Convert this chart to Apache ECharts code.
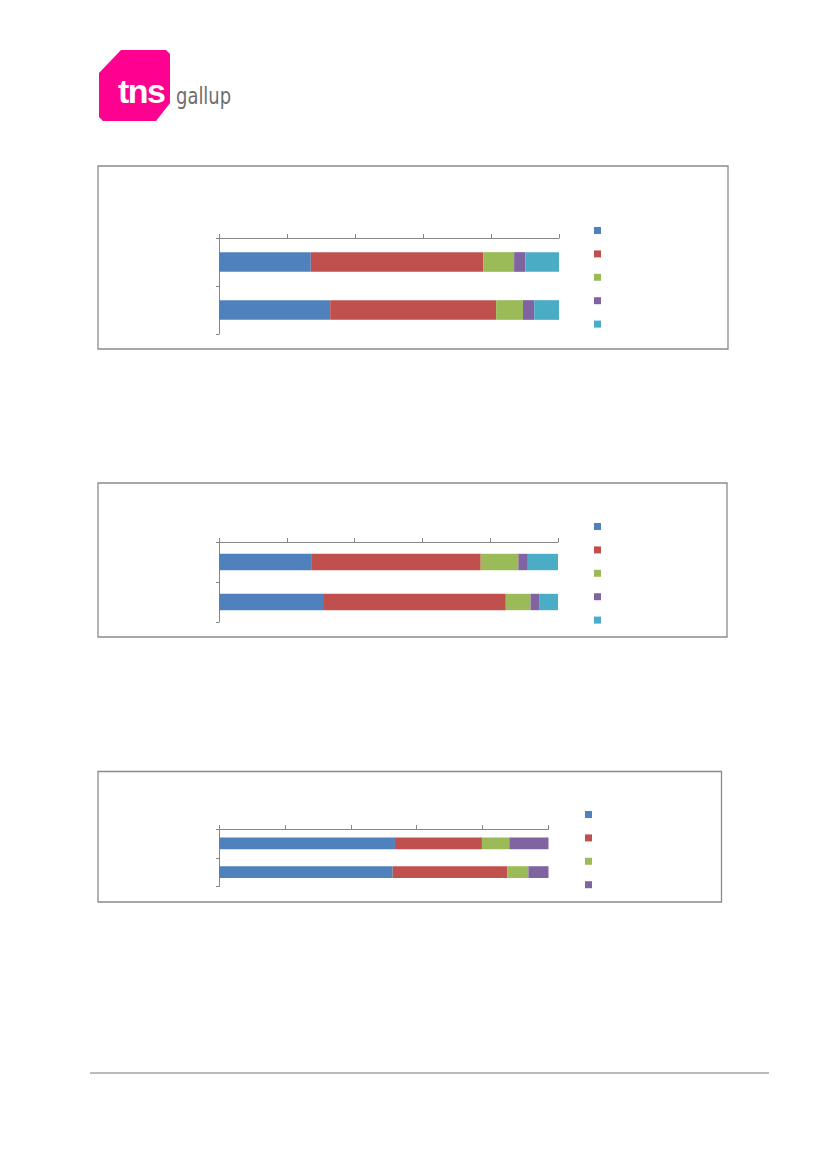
<!DOCTYPE html>
<html>
<head>
<meta charset="utf-8">
<script src="https://cdn.jsdelivr.net/npm/echarts@6/dist/echarts.min.js"></script>
<style>
  html, body { margin: 0; padding: 0; background: #fff; }
  #page { position: relative; width: 827px; height: 1170px; overflow: hidden; }
  #main { position: absolute; left: 0; top: 0; width: 827px; height: 1170px; }
  #logo {
    position: absolute; left: 99px; top: 50px; width: 71px; height: 71px;
    background: #ff0090;
    clip-path: polygon(22px 0, 67px 0, 71px 4px, 71px 53px, 57px 71px, 4px 71px, 0 67px, 0 23px);
  }
  #tns {
    position: absolute; left: 118px; top: 72px; line-height: 1;
    font: bold 34px "Liberation Sans", Arial, sans-serif; color: #fff; letter-spacing: -1.5px;
  }
  #gallup {
    position: absolute; left: 176px; top: 83px; line-height: 1;
    font: 23px "DejaVu Sans", sans-serif; color: #6e6e6e;
    transform: scaleX(0.78); transform-origin: left top;
  }
</style>
</head>
<body>
<div id="page">
  <div id="logo"></div>
  <div id="tns">tns</div>
  <div id="gallup">gallup</div>
  <div id="main"></div>
</div>
<script>
// categories (hidden in the reference), top to bottom
const categories = ["A", "B"];
const seriesNames = ["Serie 1", "Serie 2", "Serie 3", "Serie 4", "Serie 5"];
const colors = ["#4F81BD", "#C0504D", "#9BBB59", "#8064A2", "#4BACC6"];
const xTicks = [0, 20, 40, 60, 80, 100];

// chart 1 values per series: [top bar, bottom bar]
const chart1 = [
  [27.0, 32.7],
  [50.7, 48.8],
  [9.1, 7.9],
  [3.3, 3.3],
  [9.9, 7.3],
];
// chart 2
const chart2 = [
  [27.4, 30.7],
  [49.8, 53.9],
  [11.1, 7.3],
  [2.8, 2.7],
  [8.9, 5.4],
];
// chart 3 (four series)
const chart3 = [
  [53.4, 52.7],
  [26.4, 34.8],
  [8.3, 6.4],
  [11.9, 6.1],
];

const charts = [chart1, chart2, chart3];

// layout of each panel
const grids = [
  { left: 219, top: 238, width: 340, height: 96 },
  { left: 219, top: 542, width: 339, height: 80 },
  { left: 219, top: 829, width: 329.5, height: 57.5 },
];
const legendPos = [
  { left: 594, top: 227 },
  { left: 594, top: 523 },
  { left: 585, top: 811 },
];
const boxes = [
  { x: 98, y: 166, width: 630, height: 183 },
  { x: 98, y: 483, width: 629, height: 154 },
  { x: 98, y: 771.5, width: 623.5, height: 130.5 },
];

const axisGray = "#868686";

const myChart = echarts.init(document.getElementById("main"), null, { renderer: "canvas" });

let xAxes = [], yAxes = [], series = [], legends = [];
charts.forEach(function (data, gi) {
  xAxes.push({
    gridIndex: gi,
    type: "value",
    position: "top",
    min: xTicks[0],
    max: xTicks[xTicks.length - 1],
    interval: xTicks[1] - xTicks[0],
    axisLine: { show: true, lineStyle: { color: axisGray, width: 1 } },
    axisTick: { show: true, length: 4, lineStyle: { color: axisGray } },
    axisLabel: { show: false },
    splitLine: { show: false },
  });
  yAxes.push({
    gridIndex: gi,
    type: "category",
    inverse: true,
    data: categories,
    axisLine: { show: true, lineStyle: { color: axisGray, width: 1 } },
    axisTick: { show: true, length: 3, lineStyle: { color: axisGray } },
    axisLabel: { show: false },
  });
  data.forEach(function (vals, si) {
    series.push({
      name: seriesNames[si],
      type: "bar",
      stack: "s" + gi,
      xAxisIndex: gi,
      yAxisIndex: gi,
      barCategoryGap: "59%",
      itemStyle: { color: colors[si] },
      data: vals,
    });
  });
  legends.push({
    orient: "vertical",
    left: legendPos[gi].left,
    top: legendPos[gi].top,
    icon: "rect",
    itemWidth: 7,
    itemHeight: 7,
    itemGap: 16.4,
    padding: 0,
    selectedMode: false,
    formatter: function () { return ""; },
    textStyle: { fontSize: 7, lineHeight: 7 },
    data: seriesNames.slice(0, data.length),
  });
});

const option = {
  animation: false,
  color: colors,
  grid: grids,
  xAxis: xAxes,
  yAxis: yAxes,
  legend: legends,
  series: series,
  graphic: boxes.map(function (b) {
    return {
      type: "rect",
      shape: b,
      style: { fill: "none", stroke: "#8a8a8a", lineWidth: 1.3 },
      silent: true,
    };
  }).concat([{
    type: "line",
    shape: { x1: 90, y1: 1073, x2: 769, y2: 1073 },
    style: { stroke: "#a6a6a6", lineWidth: 1.5 },
    silent: true,
  }]),
};

myChart.setOption(option);
</script>
</body>
</html>
